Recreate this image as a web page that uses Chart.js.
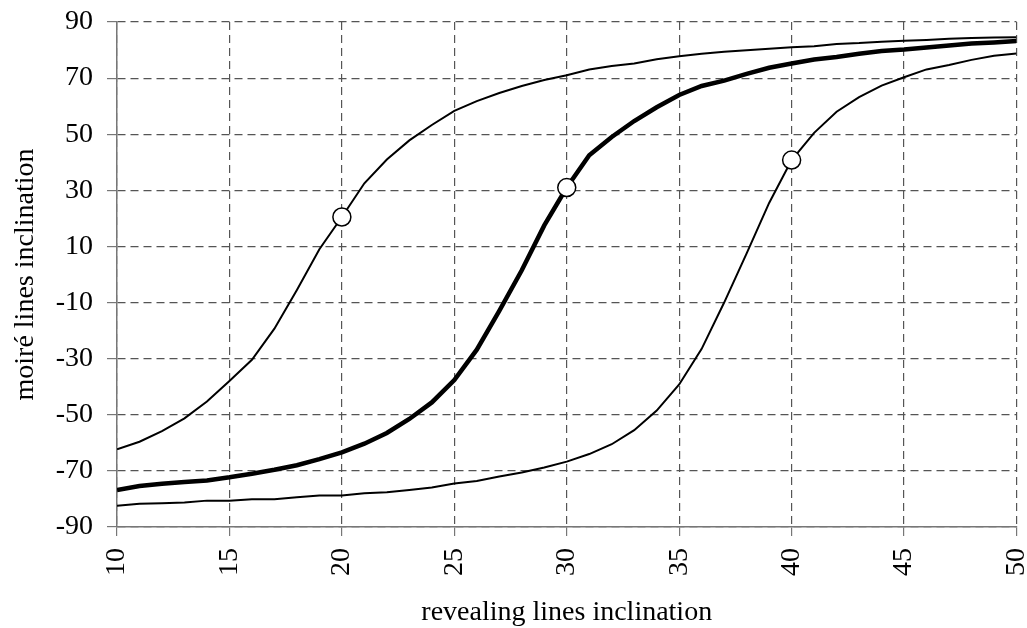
<!DOCTYPE html>
<html>
<head>
<meta charset="utf-8">
<script src="https://cdn.jsdelivr.net/npm/chart.js@4/dist/chart.umd.min.js"></script>
<style>
  html, body { margin: 0; padding: 0; background: #fff; }
  #wrap { width: 1027px; height: 628px; }
</style>
</head>
<body>
<div id="wrap"><canvas id="moireChart" width="1027" height="628"></canvas></div>
<script>
// revealing lines inclination (degrees)
const revealing = [10, 11, 12, 13, 14, 15, 16, 17, 18, 19, 20, 21, 22, 23, 24, 25, 26, 27, 28, 29, 30,
                   31, 32, 33, 34, 35, 36, 37, 38, 39, 40, 41, 42, 43, 44, 45, 46, 47, 48, 49, 50];

// moiré lines inclination, one curve per base angle
const curve20 = [-62.3, -59.6, -55.8, -51.3, -45.3, -38.0, -30.4, -19.3, -5.5, 9.0, 20.5,
                 32.5, 41.0, 47.8, 53.3, 58.3, 61.8, 64.7, 67.2, 69.3, 71.0,
                 73.1, 74.3, 75.2, 76.7, 77.8, 78.7, 79.4, 79.9, 80.5, 81.0,
                 81.4, 82.2, 82.5, 83.0, 83.3, 83.6, 84.0, 84.3, 84.5, 84.6];
const curve30 = [-76.8, -75.4, -74.6, -74.0, -73.4, -72.3, -71.0, -69.6, -68.0, -65.8, -63.4,
                 -60.3, -56.5, -51.5, -45.6, -37.6, -26.8, -13.0, 1.5, 17.5, 31.0,
                 42.5, 49.0, 54.7, 59.6, 64.0, 67.2, 69.1, 71.5, 73.7, 75.2,
                 76.6, 77.5, 78.7, 79.7, 80.2, 80.9, 81.6, 82.3, 82.7, 83.2];
const curve40 = [-82.4, -81.7, -81.5, -81.3, -80.6, -80.6, -80.1, -80.1, -79.4, -78.8, -78.8,
                 -78.0, -77.6, -76.8, -75.9, -74.5, -73.6, -72.0, -70.6, -68.8, -66.7,
                 -64.0, -60.5, -55.5, -48.5, -39.2, -26.5, -10.0, 7.5, 25.5, 40.8,
                 50.5, 58.0, 63.2, 67.3, 70.3, 73.1, 74.7, 76.5, 78.0, 78.8];

// highlighted points (open circles)
const markX = [20, 30, 40];
const markY = [20.5, 31.0, 40.8];

const FONT = "'Liberation Serif', 'Times New Roman', serif";

function toPoints(xs, ys) {
    return xs.map((x, i) => ({ x: x, y: ys[i] }));
}

function lineSet(values, width) {
    return {
        type: 'line',
        data: toPoints(revealing, values),
        borderColor: '#000',
        borderWidth: width,
        pointRadius: 0,
        tension: 0,
        fill: false
    };
}

const ctx = document.getElementById('moireChart').getContext('2d');
new Chart(ctx, {
    type: 'line',
    data: {
        datasets: [
            {
                type: 'scatter',
                data: toPoints(markX, markY),
                pointRadius: 9,
                pointBackgroundColor: '#fff',
                pointBorderColor: '#000',
                pointBorderWidth: 1.5,
                showLine: false
            },
            lineSet(curve20, 2),
            lineSet(curve30, 4.5),
            lineSet(curve40, 2)
        ]
    },
    options: {
        responsive: false,
        animation: false,
        layout: { padding: { left: 0, right: 10, top: 22, bottom: 0 } },
        plugins: {
            legend: { display: false },
            tooltip: { enabled: false }
        },
        scales: {
            x: {
                type: 'linear',
                min: 10,
                max: 50,
                ticks: {
                    stepSize: 5,
                    minRotation: 90,
                    maxRotation: 90,
                    padding: 12,
                    color: '#000',
                    font: { family: FONT, size: 28 }
                },
                grid: { color: '#555', lineWidth: 1.2, tickLength: 9, tickColor: '#777' },
                border: { color: '#777', width: 1.5, dash: [8, 5] },
                title: {
                    display: true,
                    text: 'revealing lines inclination',
                    color: '#000',
                    font: { family: FONT, size: 28, lineHeight: 1 },
                    padding: { top: 0, bottom: 1 }
                },
                afterFit: function (scale) {
                    scale.height = 101;
                    scale.paddingLeft = 0;
                    scale.paddingRight = 0;
                }
            },
            y: {
                min: -90,
                max: 90,
                ticks: {
                    stepSize: 20,
                    padding: 14,
                    color: '#000',
                    font: { family: FONT, size: 28 }
                },
                grid: { color: '#555', lineWidth: 1.2, tickLength: 10, tickColor: '#777' },
                border: { color: '#777', width: 1.5, dash: [8, 5] },
                title: {
                    display: true,
                    text: 'moiré lines inclination',
                    color: '#000',
                    font: { family: FONT, size: 28, lineHeight: 1 },
                    padding: { top: 12, bottom: 0 }
                },
                afterFit: function (scale) {
                    scale.width = 117;
                    scale.paddingTop = 0;
                    scale.paddingBottom = 0;
                }
            }
        }
    }
});
</script>
</body>
</html>
